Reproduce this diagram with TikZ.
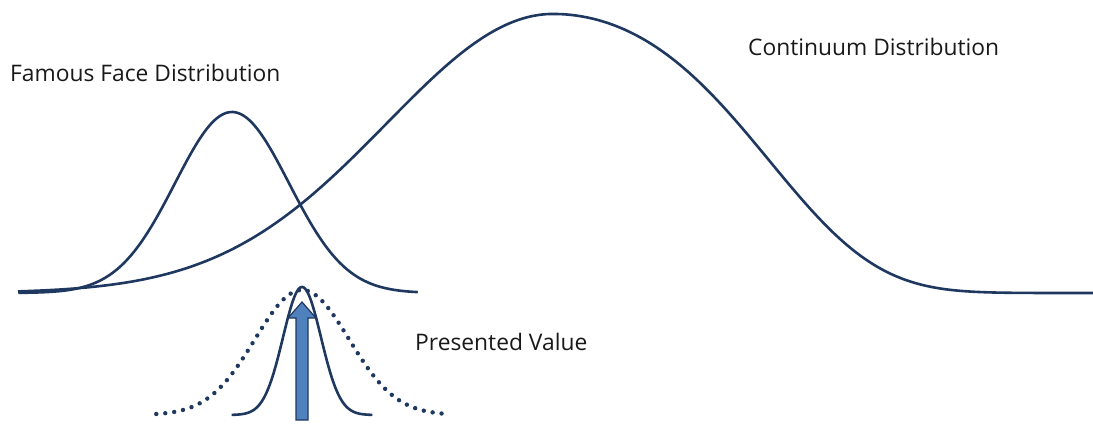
\documentclass[tikz,border=0pt]{standalone}
\usepackage{fontspec}
\setmainfont{Open Sans}
\usepackage{tikz}
\usepackage{xcolor}
\usetikzlibrary{calc,positioning}
\definecolor{curvenavy}{RGB}{31,56,96}
\definecolor{arrowblue}{RGB}{79,129,189}
\tikzset{distcurve/.style={curvenavy, line width=2.6pt, line join=round, smooth, samples=120},
  distlabel/.style={anchor=west, inner sep=0pt, font=\fontsize{22.8}{26}\selectfont, text=black!90}}

\begin{document}
\begin{tikzpicture}[x=1pt, y=-1pt]
\useasboundingbox (0,0) rectangle (1093,424);
% famous face
\draw[distcurve] [domain=-3.75:3.26] plot ({232+57*\x}, {293-181*exp(-\x*\x/2)});
% continuum, right tail a bit lighter
\draw[distcurve] [domain=5.35:0] plot ({553-100*\x}, {293-279*exp(-0.18*\x*\x)})
  -- plot[domain=0:5.4] ({553+100*\x}, {293-279*exp(-0.107*\x*\x-0.0112*\x*\x*\x*\x)});
% presented value
\draw[distcurve] [domain=-3.7:3.7] plot ({302+19*\x}, {415-128*exp(-\x*\x/2)});
\draw[distcurve, samples=150, line width=4.4pt, line cap=round, dash pattern=on 0pt off 9pt] [domain=-3.1:3.1] plot ({302+47*\x}, {415-125*exp(-\x*\x/2)});
\draw[fill=arrowblue, draw=curvenavy, line width=1.2pt]
  (296,420) -- (296,318) -- (288,318) -- (302,302) -- (316,318) -- (308,318) -- (308,420) -- cycle;
\node[distlabel] (famous) at (10,73) {Famous Face Distribution};
\node[distlabel] (continuum) at (748,47) {Continuum Distribution};
\node[distlabel] (presented) at (415,342) {Presented Value};
\end{tikzpicture}
\end{document}
